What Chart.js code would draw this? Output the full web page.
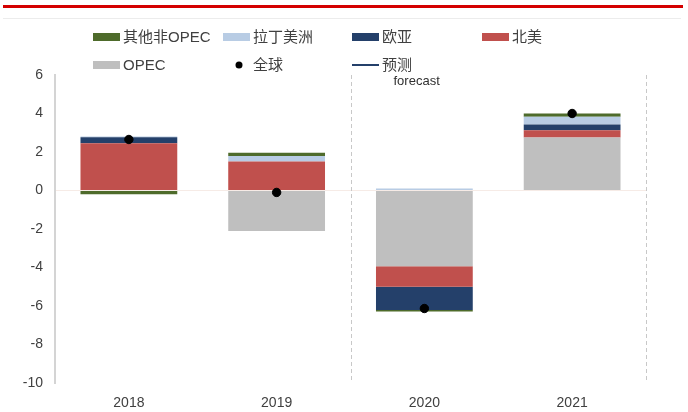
<!DOCTYPE html>
<html><head><meta charset="utf-8">
<script src="https://cdn.jsdelivr.net/npm/chart.js@4"></script>
<style>html,body{margin:0;padding:0;background:#fff;overflow:hidden}#wrap{width:688px;height:412px}</style>
</head><body><div id="wrap"><canvas id="c" width="688" height="412"></canvas></div>
<script>
const categories = ['2018', '2019', '2020', '2021'];
const opec = [0, -2.11, -3.93, 2.75];
const northAmerica = [2.46, 1.51, -1.07, 0.38];
const eurasia = [0.31, 0, -1.21, 0.30];
const latinAmerica = [0.03, 0.28, 0.10, 0.40];
const otherNonOpec = [-0.2, 0.17, -0.07, 0.17];
const globalTotal = [2.65, -0.10, -6.13, 4.0];
const forecastLine = [];
const yTicks = [6, 4, 2, 0, -2, -4, -6, -8, -10];

const FONT = "'Liberation Sans', Arial, 'Noto Sans CJK SC', sans-serif";
const TXT = '#404040';

const decor = {
  id: 'decor',
  beforeDraw(chart) {
    const ctx = chart.ctx;
    ctx.save();
    ctx.fillStyle = '#fff';
    ctx.fillRect(0, 0, chart.width, chart.height);
    ctx.fillStyle = '#d40000';
    ctx.fillRect(3, 5, 680, 3);
    ctx.fillStyle = '#ececec';
    ctx.fillRect(3, 18, 678, 1);
    ctx.restore();
  },
  beforeDatasetsDraw(chart) {
    const ctx = chart.ctx, x = chart.scales.x, a = chart.chartArea;
    const b = (x.getPixelForValue(1) + x.getPixelForValue(2)) / 2;
    ctx.save();
    ctx.strokeStyle = '#c8c8c8';
    ctx.lineWidth = 1;
    ctx.setLineDash([4, 3]);
    [b, a.right].forEach(px => {
      ctx.beginPath();
      ctx.moveTo(Math.round(px) + 0.5, a.top);
      ctx.lineTo(Math.round(px) + 0.5, a.bottom);
      ctx.stroke();
    });
    ctx.restore();
  },
  afterDraw(chart, args, opts) {
    const ctx = chart.ctx, x = chart.scales.x;
    ctx.save();
    ctx.font = '15px ' + FONT;
    ctx.textBaseline = 'middle';
    ctx.textAlign = 'left';
    opts.cells.forEach(c => {
      const ds = chart.data.datasets.find(d => d.label === c.label);
      if (!ds) return;
      const kind = ds.type || 'bar';
      if (kind === 'bar') {
        ctx.fillStyle = ds.backgroundColor;
        ctx.fillRect(c.x, c.y - 4, 27, 8);
      } else if (ds.showLine === false) {
        ctx.fillStyle = ds.pointBackgroundColor;
        ctx.beginPath();
        ctx.arc(c.x + 16, c.y, 3.5, 0, Math.PI * 2);
        ctx.fill();
      } else {
        ctx.strokeStyle = ds.borderColor;
        ctx.lineWidth = 2;
        ctx.beginPath();
        ctx.moveTo(c.x, c.y);
        ctx.lineTo(c.x + 27, c.y);
        ctx.stroke();
      }
      ctx.fillStyle = TXT;
      ctx.fillText(ds.label, c.x + 30, c.y + 1);
    });
    const b = (x.getPixelForValue(1) + x.getPixelForValue(2)) / 2;
    ctx.font = '13px ' + FONT;
    ctx.fillStyle = '#303030';
    ctx.fillText('forecast', b + 43, 81);
    ctx.restore();
  }
};

new Chart(document.getElementById('c'), {
  data: {
    labels: categories,
    datasets: [
      { type: 'scatter', label: '全球', data: globalTotal, showLine: false, stack: 'g', order: -1,
        pointBackgroundColor: '#000', pointBorderColor: '#000', pointRadius: 4.2, pointHoverRadius: 4.2 },
      { type: 'bar', label: 'OPEC', data: opec, backgroundColor: '#bfbfbf', stack: 's' },
      { type: 'bar', label: '北美', data: northAmerica, backgroundColor: '#c0504d', stack: 's' },
      { type: 'bar', label: '欧亚', data: eurasia, backgroundColor: '#24406a', stack: 's' },
      { type: 'bar', label: '拉丁美洲', data: latinAmerica, backgroundColor: '#b8cce4', stack: 's' },
      { type: 'bar', label: '其他非OPEC', data: otherNonOpec, backgroundColor: '#4e6b2b', stack: 's' },
      { type: 'line', label: '预测', data: forecastLine, borderColor: '#24406a', borderWidth: 2, stack: 'f', pointRadius: 0 }
    ]
  },
  options: {
    responsive: false,
    animation: false,
    devicePixelRatio: 1,
    layout: { padding: { top: 75, left: 23, right: 42, bottom: 2 } },
    datasets: { bar: { categoryPercentage: 1, barPercentage: 0.655 } },
    plugins: {
      legend: { display: false },
      tooltip: { enabled: false },
      decor: {
        cells: [
          { label: '其他非OPEC', x: 93, y: 37 },
          { label: '拉丁美洲', x: 223, y: 37 },
          { label: '欧亚', x: 352, y: 37 },
          { label: '北美', x: 482, y: 37 },
          { label: 'OPEC', x: 93, y: 65 },
          { label: '全球', x: 223, y: 65 },
          { label: '预测', x: 352, y: 65 }
        ]
      }
    },
    scales: {
      x: {
        type: 'category',
        stacked: true,
        offset: true,
        grid: { display: false, drawTicks: false },
        border: { display: false },
        afterFit: s => { s.height = 27; },
        ticks: { color: TXT, font: { family: FONT, size: 14 }, padding: 12 }
      },
      y: {
        stacked: true,
        min: yTicks[yTicks.length - 1],
        max: yTicks[0],
        grid: {
          drawTicks: false,
          color: ctx => (ctx.tick && ctx.tick.value === 0) ? '#f6ebe6' : 'rgba(0,0,0,0)'
        },
        border: { display: true, color: '#d4d4d4', width: 2 },
        afterBuildTicks: s => { s.ticks = yTicks.slice().reverse().map(v => ({ value: v })); },
        afterFit: s => { s.width = 32; },
        ticks: { color: TXT, font: { family: FONT, size: 14 }, padding: 12, stepSize: 2 }
      }
    }
  },
  plugins: [decor]
});
</script>
</body></html>
